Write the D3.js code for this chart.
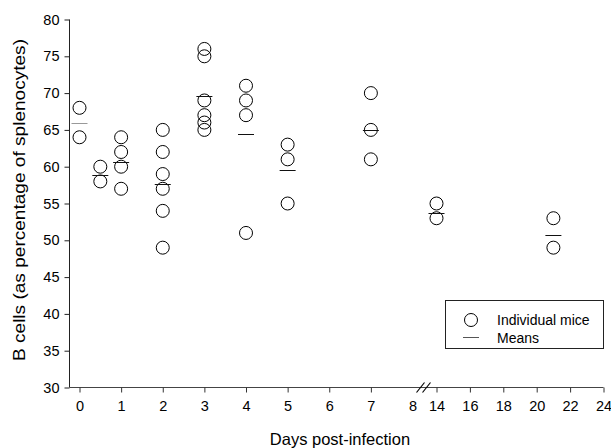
<!DOCTYPE html>
<html>
<head>
<meta charset="utf-8">
<script src="https://cdn.jsdelivr.net/npm/d3@7"></script>
<style>
  html, body { margin: 0; padding: 0; background: #fff; }
  svg { display: block; }
  text { font-family: "Liberation Sans", Arial, sans-serif; fill: #000; }
</style>
</head>
<body>
<svg id="chart" width="611" height="448"></svg>
<script>
// ---- data ----
const days = [0, 0.5, 1, 2, 3, 4, 5, 7, 14, 21];
const individualMice = [
  [68, 64],
  [60, 58],
  [64, 62, 60, 57],
  [65, 62, 59, 57, 54, 49],
  [76, 75, 69, 67, 66, 65],
  [71, 69, 67, 51],
  [63, 61, 55],
  [70, 65, 61],
  [55, 53],
  [53, 49]
];
const means = [66, 58.9, 60.7, 57.6, 69.6, 64.4, 59.5, 65, 53.7, 50.7];
const yTickValues = [30, 35, 40, 45, 50, 55, 60, 65, 70, 75, 80];
const xTicksEarly = [0, 1, 2, 3, 4, 5, 6, 7, 8];
const xTicksLate = [14, 16, 18, 20, 22, 24];
const legendLabels = ["Individual mice", "Means"];
const xTitle = "Days post-infection";
const yTitle = "B cells (as percentage of splenocytes)";

// ---- layout ----
const svg = d3.select("#chart");
const y = d3.scaleLinear().domain([30, 80]).range([387.5, 19.5]);
const xA = d3.scaleLinear().domain([0, 8]).range([79.5, 412.5]);
const xB = d3.scaleLinear().domain([14, 24]).range([436.5, 603.5]);
const xPos = d => d <= 8 ? xA(d) : xB(d);
const axisX0 = 69.5;
const axisY0 = 387.5;

// y axis
const gy = svg.append("g").attr("transform", `translate(${axisX0},0)`)
  .call(d3.axisLeft(y).tickValues(yTickValues).tickSize(5).tickPadding(5).tickFormat(d3.format("d")));
gy.select(".domain").remove();
gy.selectAll(".tick line").attr("stroke", "#222");
gy.selectAll(".tick text").style("font-size", "14.5px").attr("fill", "#000");
svg.append("line").attr("x1", axisX0).attr("x2", axisX0).attr("y1", y(80)).attr("y2", y(30))
  .attr("stroke", "#222").attr("stroke-width", 1);

// x axis line
svg.append("line").attr("x1", axisX0).attr("x2", xB(24)).attr("y1", axisY0).attr("y2", axisY0)
  .attr("stroke", "#444").attr("stroke-width", 1);

const gxA = svg.append("g").attr("transform", `translate(0,${axisY0})`)
  .call(d3.axisBottom(xA).tickValues(xTicksEarly).tickSize(5).tickPadding(8).tickFormat(d3.format("d")));
gxA.select(".domain").remove();
gxA.selectAll(".tick line").attr("stroke", "#333");
gxA.selectAll(".tick").filter(d => d === 8).select("line").remove();
gxA.selectAll(".tick text").style("font-size", "14.5px").attr("fill", "#000");

const gxB = svg.append("g").attr("transform", `translate(0,${axisY0})`)
  .call(d3.axisBottom(xB).tickValues(xTicksLate).tickSize(5).tickPadding(8).tickFormat(d3.format("d")));
gxB.select(".domain").remove();
gxB.selectAll(".tick line").attr("stroke", "#333");
gxB.selectAll(".tick text").style("font-size", "14.5px").attr("fill", "#000");

// axis break marks
const bx = (xA(8) + xB(14)) / 2;
[-4, 2].forEach(off => {
  svg.append("line")
    .attr("x1", bx + off - 4).attr("y1", axisY0 + 5)
    .attr("x2", bx + off + 4).attr("y2", axisY0 - 5)
    .attr("stroke", "#000").attr("stroke-width", 1.2);
});

// axis titles
svg.append("text").attr("x", 340).attr("y", 445).attr("text-anchor", "middle")
  .style("font-size", "16.5px").text(xTitle);
svg.append("text").attr("transform", `translate(25,200) rotate(-90)`).attr("text-anchor", "middle")
  .attr("textLength", 322).attr("lengthAdjust", "spacingAndGlyphs")
  .style("font-size", "17px").text(yTitle);

// points
const groups = svg.append("g").selectAll("g").data(days).join("g");
groups.each(function(d, i) {
  d3.select(this).selectAll("circle").data(individualMice[i]).join("circle")
    .attr("cx", xPos(d)).attr("cy", v => y(v)).attr("r", 6.5)
    .attr("fill", "none").attr("stroke", "#000").attr("stroke-width", 1);
});

// means
svg.append("g").selectAll("line").data(days).join("line")
  .attr("x1", d => xPos(d) - 8).attr("x2", d => xPos(d) + 8)
  .attr("y1", (d, i) => Math.round(y(means[i])) + 0.5).attr("y2", (d, i) => Math.round(y(means[i])) + 0.5)
  .attr("stroke", (d, i) => i === 0 ? "#999" : "#111").attr("stroke-width", 1);

// legend
const lg = svg.append("g");
lg.append("rect").attr("x", 445.5).attr("y", 300.5).attr("width", 158).attr("height", 48)
  .attr("fill", "#fff").attr("stroke", "#222").attr("stroke-width", 1);
lg.append("circle").attr("cx", 471).attr("cy", 320).attr("r", 6.5)
  .attr("fill", "none").attr("stroke", "#000");
lg.append("line").attr("x1", 463).attr("x2", 479).attr("y1", 337.5).attr("y2", 337.5)
  .attr("stroke", "#555").attr("stroke-width", 1);
lg.append("text").attr("x", 497).attr("y", 325).style("font-size", "14px").text(legendLabels[0]);
lg.append("text").attr("x", 497).attr("y", 343).style("font-size", "14px").text(legendLabels[1]);
</script>
</body>
</html>
